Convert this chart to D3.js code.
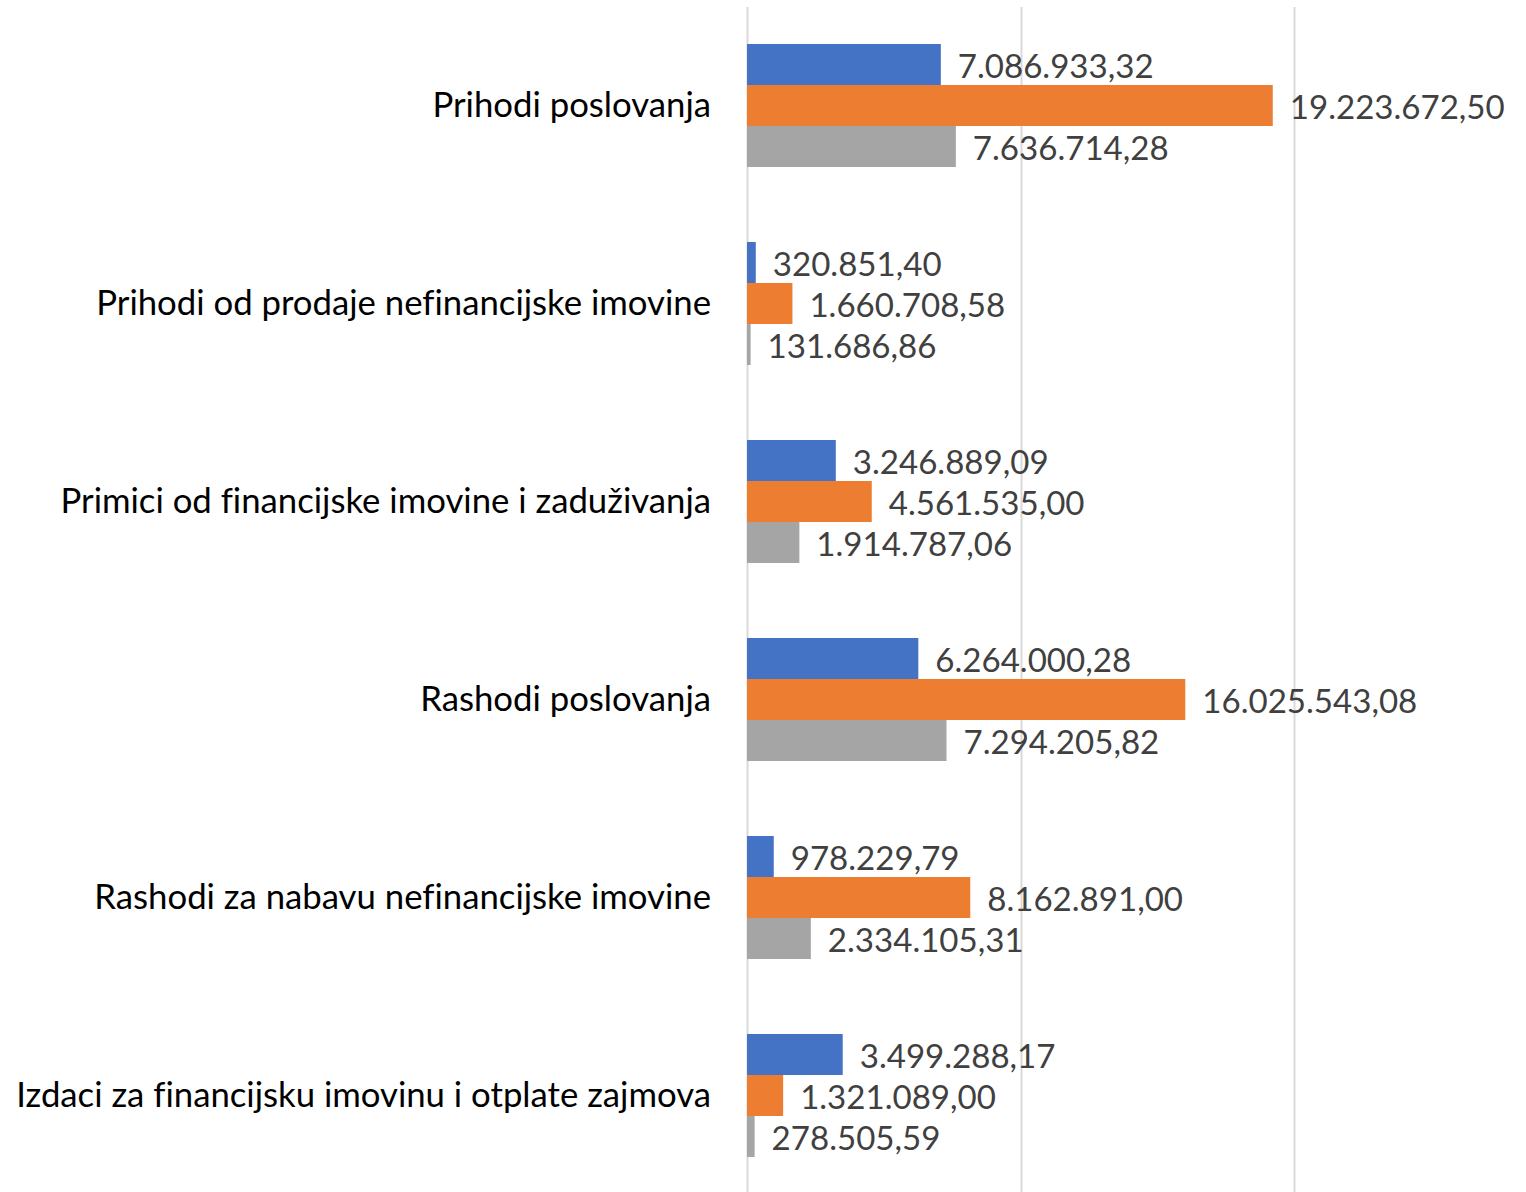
<!DOCTYPE html>
<html>
<head>
<meta charset="utf-8">
<script src="https://cdn.jsdelivr.net/npm/d3@7"></script>
<style>
  html, body { margin: 0; padding: 0; background: #fff; }
  svg { display: block; }
  text { font-variant-ligatures: none; }
</style>
</head>
<body>
<svg id="chart" width="1526" height="1192"></svg>
<script>
const categories = [
  "Prihodi poslovanja",
  "Prihodi od prodaje nefinancijske imovine",
  "Primici od financijske imovine i zaduživanja",
  "Rashodi poslovanja",
  "Rashodi za nabavu nefinancijske imovine",
  "Izdaci za financijsku imovinu i otplate zajmova"
];
const seriesNames = ["Serija 1", "Serija 2", "Serija 3"];
const series1 = [7086933.32, 320851.40, 3246889.09, 6264000.28, 978229.79, 3499288.17];
const series2 = [19223672.50, 1660708.58, 4561535.00, 16025543.08, 8162891.00, 1321089.00];
const series3 = [7636714.28, 131686.86, 1914787.06, 7294205.82, 2334105.31, 278505.59];
const gridTicks = [0, 10000000, 20000000];
const seriesColors = ["#4472C4", "#ED7D31", "#A5A5A5"];

const allSeries = [series1, series2, series3];
const rows = [];
categories.forEach((c, i) => {
  allSeries.forEach((s, j) => rows.push({cat: c, ser: seriesNames[j], value: s[i], idx: j}));
});

const svg = d3.select("#chart");
const W = 1526, H = 1192;
const x0 = 747;

const x = d3.scaleLinear().domain([0, 20000000]).range([x0, x0 + 547]);
const y = d3.scaleBand().domain(categories).range([6.5, 1194.5]).paddingInner(0.3788).paddingOuter(0.1894);
const yi = d3.scaleBand().domain(seriesNames).range([0, y.bandwidth()]);

const fmt = d3.formatLocale({decimal: ",", thousands: ".", grouping: [3], currency: ["", ""]}).format(",.2f");

// gridlines
svg.append("g").selectAll("line").data(gridTicks).join("line")
  .attr("x1", d => Math.round(x(d)) + 0.5).attr("x2", d => Math.round(x(d)) + 0.5)
  .attr("y1", 7).attr("y2", H)
  .attr("stroke", "#d9d9d9").attr("stroke-width", 2);

// bars
svg.append("g").selectAll("rect").data(rows).join("rect")
  .attr("x", x(0))
  .attr("y", d => y(d.cat) + yi(d.ser))
  .attr("width", d => x(d.value) - x(0))
  .attr("height", yi.bandwidth())
  .attr("fill", d => seriesColors[d.idx]);

const FONT = "Lato, 'Open Sans', 'Liberation Sans', sans-serif";

// value labels
const vl = svg.append("g").selectAll("text").data(rows).join("text")
  .attr("x", d => x(d.value) + 17)
  .attr("y", d => y(d.cat) + yi(d.ser) + yi.bandwidth() / 2)
  .attr("dy", "0.40em")
  .attr("fill", "#404040")
  .style("font-family", FONT)
  .style("font-size", "31px")
  .text(d => fmt(d.value));

// category labels
const cl = svg.append("g").selectAll("text").data(categories).join("text")
  .attr("x", 711)
  .attr("y", d => y(d) + y.bandwidth() / 2)
  .attr("dy", "0.34em")
  .attr("text-anchor", "end")
  .attr("fill", "#000")
  .style("font-family", FONT)
  .style("font-size", "31px")
  .text(d => d);

// fit font sizes to reference widths
function fit(sel, sampleIdx, target) {
  const node = sel.nodes()[sampleIdx];
  const w = node.getComputedTextLength();
  const fs = 31 * target / w;
  sel.style("font-size", fs.toFixed(2) + "px");
}
fit(cl, 5, 695);
fit(vl, 1, 215);
</script>
</body>
</html>
